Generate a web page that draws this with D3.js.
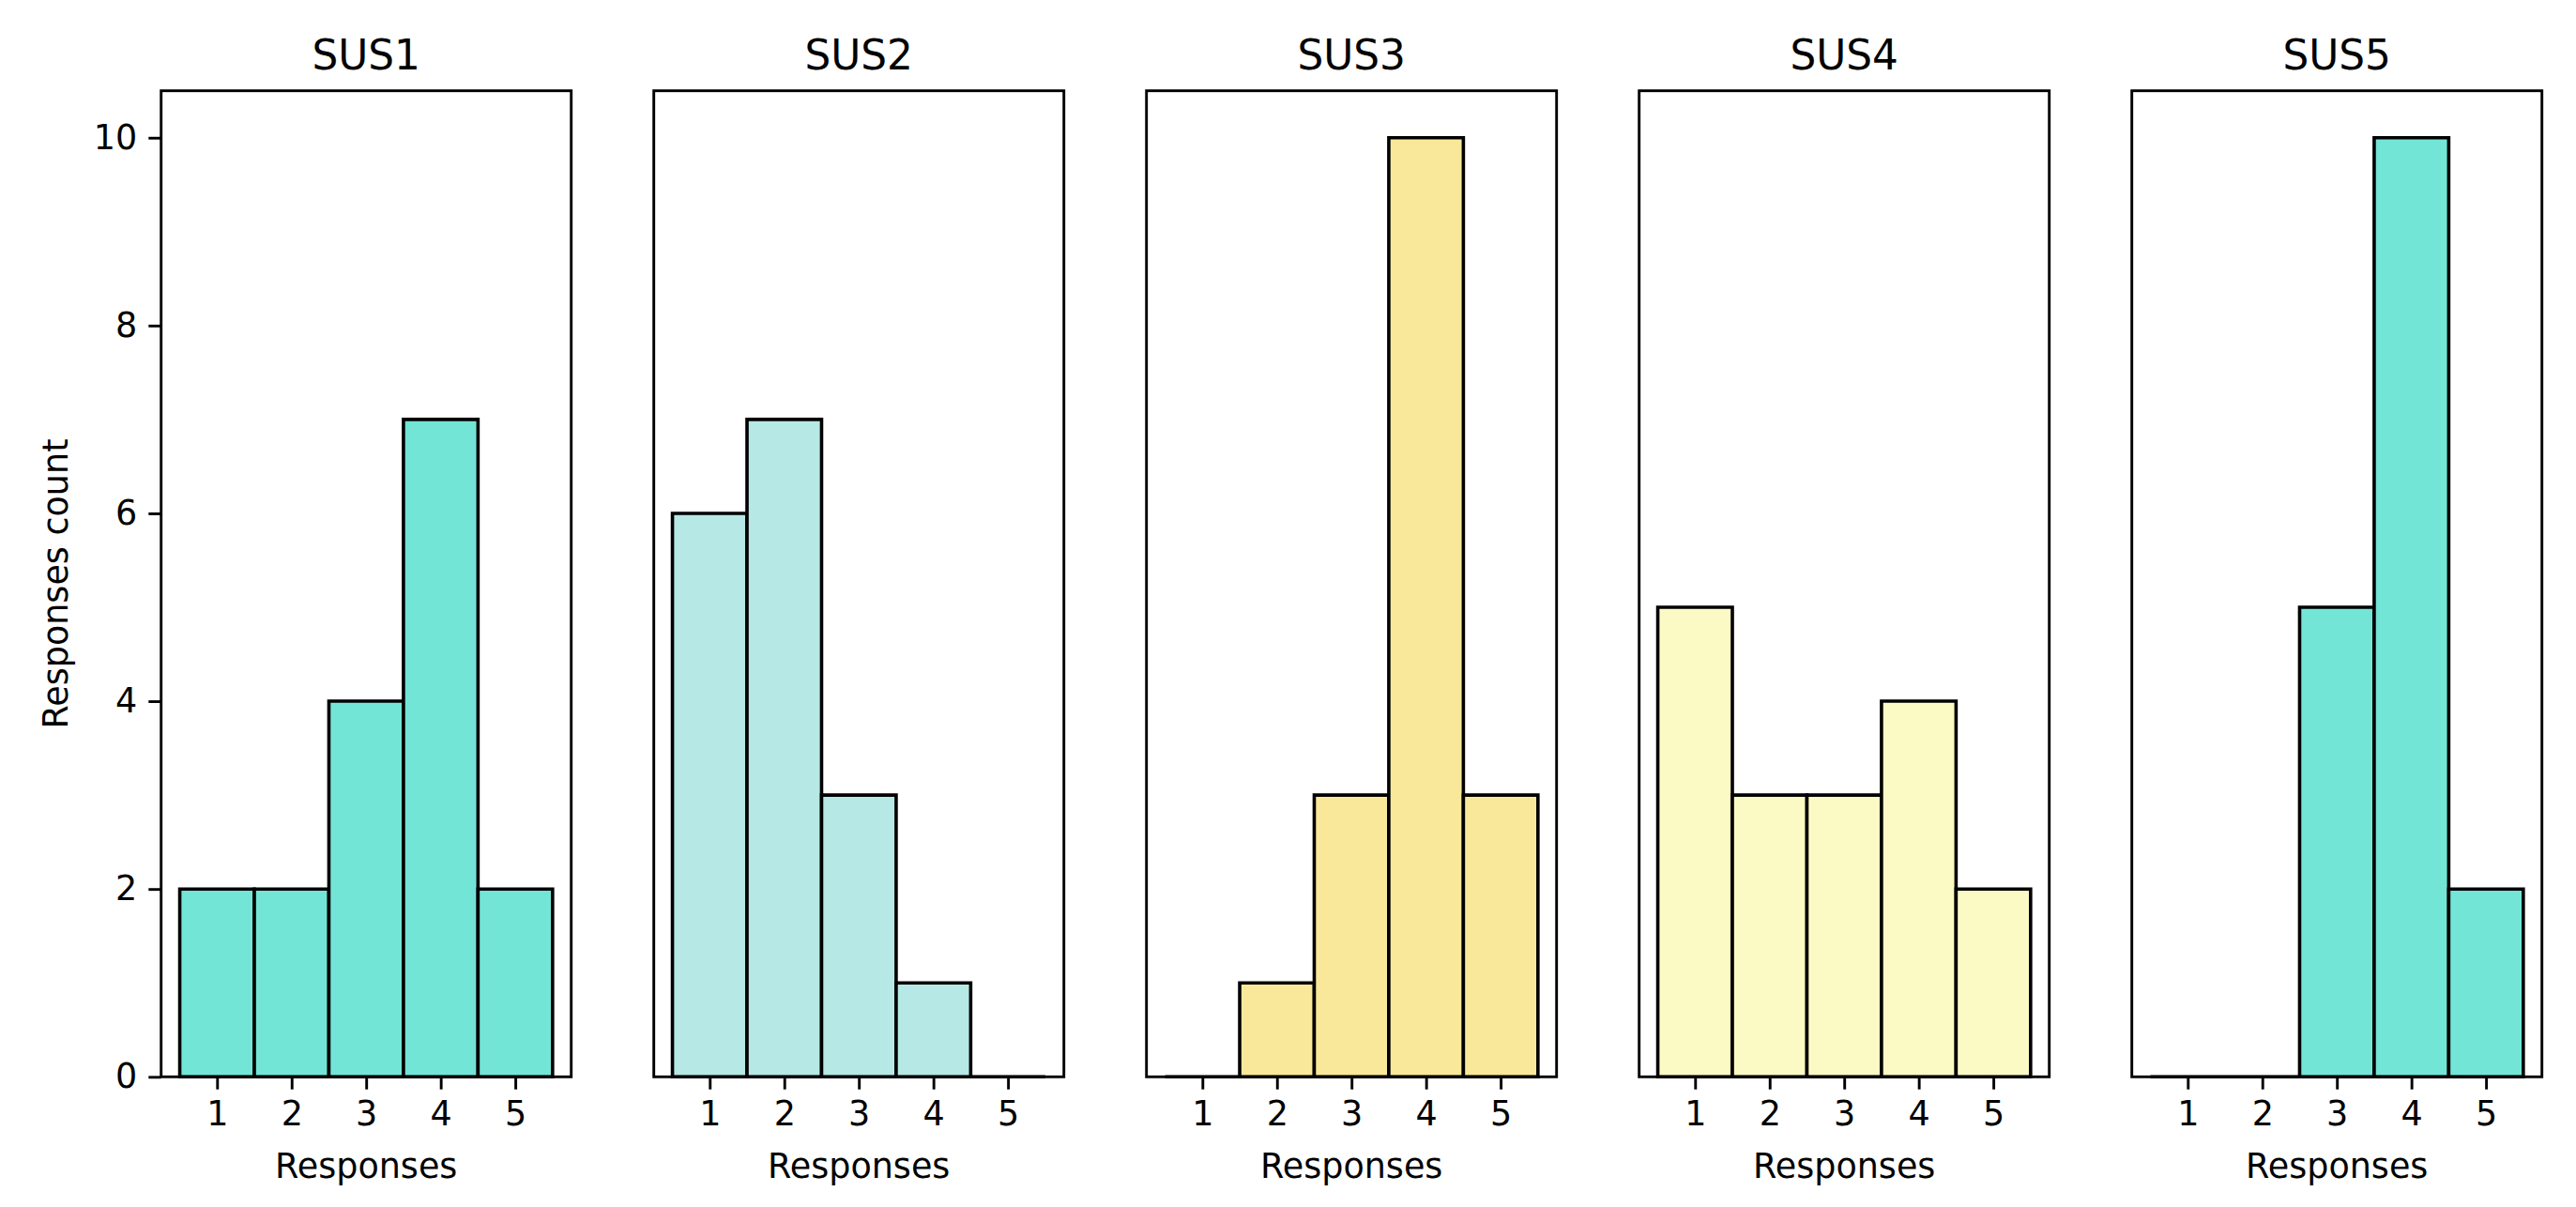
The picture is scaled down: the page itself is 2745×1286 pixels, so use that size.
<!DOCTYPE html>
<html>
<head>
<meta charset="utf-8">
<script src="https://cdn.jsdelivr.net/npm/d3@7"></script>
<style>
  html, body { margin: 0; padding: 0; background: #fff; }
  svg { display: block; font-family: "DejaVu Sans", sans-serif; }
</style>
</head>
<body>
<svg id="chart" width="2745" height="1286"></svg>
<script>
// ---- data ----
const titles = ["SUS1", "SUS2", "SUS3", "SUS4", "SUS5"];
const responses = [1, 2, 3, 4, 5];
const sus1 = [2, 2, 4, 7, 2];
const sus2 = [6, 7, 3, 1, 0];
const sus3 = [0, 1, 3, 10, 3];
const sus4 = [5, 3, 3, 4, 2];
const sus5 = [0, 0, 5, 10, 2];
const yTicks = [0, 2, 4, 6, 8, 10];
const colors = ["#73E5D6", "#B6E8E5", "#F9E89A", "#FCFAC4", "#73E5D6"];
const xLabel = "Responses";
const yLabel = "Responses count";

const series = [sus1, sus2, sus3, sus4, sus5];

// ---- layout ----
const svg = d3.select("#chart");
const axLeft0 = 171.7, pitch = 525, axW = 437;
const axTop = 96.7, axBottom = 1147.3;

const y = d3.scaleLinear().domain([0, 10.5]).range([axBottom, axTop]);

series.forEach((vals, i) => {
  const left = axLeft0 + i * pitch;
  const x = d3.scaleLinear().domain([0.25, 5.75]).range([left, left + axW]);
  const g = svg.append("g");

  // bars
  g.selectAll("path.bar")
    .data(vals.map((v, k) => ({ r: responses[k], v })))
    .join("path")
    .attr("class", "bar")
    .attr("d", d => {
      const x0 = x(d.r - 0.5), x1 = x(d.r + 0.5), y0 = y(0), y1 = y(d.v);
      return `M${x0},${y0}V${y1}H${x1}V${y0}Z`;
    })
    .attr("fill", colors[i])
    .attr("stroke", "#000")
    .attr("stroke-width", 3.6)
    .attr("stroke-linejoin", "miter");

  // x axis
  const xa = g.append("g").attr("transform", `translate(0,${axBottom})`)
    .call(d3.axisBottom(x).tickValues(responses).tickSize(13.4).tickPadding(12).tickFormat(d3.format("d")));
  xa.select(".domain").remove();
  xa.selectAll(".tick line").attr("stroke", "#000").attr("stroke-width", 2.9);
  xa.selectAll(".tick text").attr("font-size", 36.5).attr("fill", "#000")
    .attr("font-family", "DejaVu Sans").attr("dy", "0.71em");

  // y axis only on first
  if (i === 0) {
    const ya = g.append("g").attr("transform", `translate(${left},0)`)
      .call(d3.axisLeft(y).tickValues(yTicks).tickSize(13.4).tickPadding(12).tickFormat(d3.format("d")));
    ya.select(".domain").remove();
    ya.selectAll(".tick line").attr("stroke", "#000").attr("stroke-width", 2.9);
    ya.selectAll(".tick text").attr("font-size", 36.5).attr("fill", "#000")
      .attr("font-family", "DejaVu Sans");
    svg.append("text")
      .attr("transform", `translate(72,${(axTop + axBottom) / 2}) rotate(-90)`)
      .attr("text-anchor", "middle")
      .attr("font-size", 36.5)
      .text(yLabel);
  }

  // frame (spines)
  g.append("rect")
    .attr("x", left).attr("y", axTop)
    .attr("width", axW).attr("height", axBottom - axTop)
    .attr("fill", "none").attr("stroke", "#000").attr("stroke-width", 2.9);

  // title
  g.append("text")
    .attr("x", left + axW / 2).attr("y", 74)
    .attr("text-anchor", "middle").attr("font-size", 43.8)
    .text(titles[i]);

  // x label
  g.append("text")
    .attr("x", left + axW / 2).attr("y", 1255)
    .attr("text-anchor", "middle").attr("font-size", 36.5)
    .text(xLabel);
});
</script>
</body>
</html>
